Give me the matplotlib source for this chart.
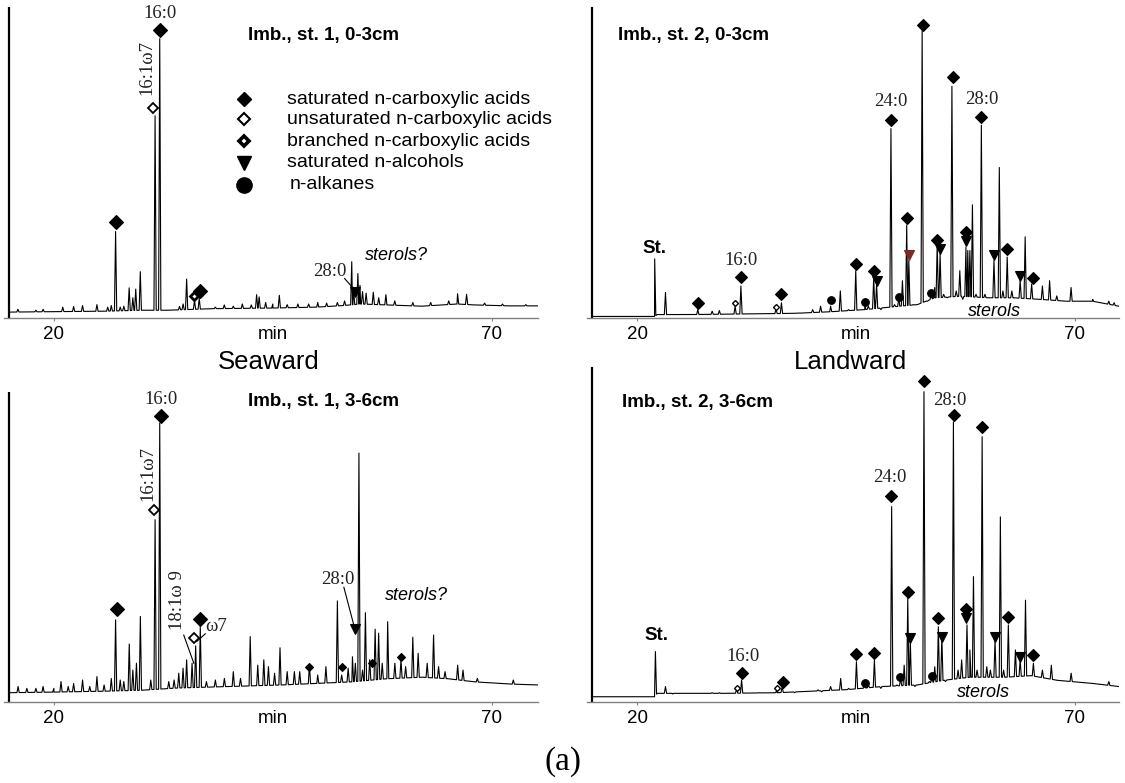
import numpy as np
import matplotlib
matplotlib.use("Agg")
import matplotlib.pyplot as plt

plt.rcParams['font.family'] = ['Liberation Sans', 'DejaVu Sans']

# ---------------- data (retention time in min, relative intensity) ----------------
# Seaward, station 1, 0-3 cm
tl_base = [(14.9, 1.9), (26.0, 2.2), (30.0, 2.5), (33.0, 2.5), (38.0, 3.0), (45.0, 3.2),
           (50.0, 3.5), (53.0, 4.0), (55.0, 4.5), (58.0, 4.2), (62.0, 3.8), (66.0, 4.5),
           (68.0, 4.2), (72.0, 3.9), (75.2, 3.9)]
tl_peaks = [(15.88, 2.8), (17.93, 2.5), (18.76, 2.8), (21.0, 3.5), (22.24, 3.7), (23.26, 4.0),
            (24.9, 4.3), (26.13, 3.5), (26.54, 4.0), (27.03, 27.8), (27.56, 3.5), (27.97, 3.8),
            (28.58, 9.7), (29.0, 6.5), (29.33, 9.3), (29.85, 14.9), (31.54, 65.0), (32.07, 89.8),
            (34.33, 3.7), (34.74, 4.5), (35.14, 12.5), (36.04, 5.7), (36.58, 6.3), (38.42, 3.5),
            (39.44, 4.2), (40.47, 3.8), (41.5, 4.5), (42.52, 4.2), (43.13, 7.5), (43.42, 6.8),
            (44.16, 5.0), (44.98, 4.5), (45.72, 7.3), (46.62, 4.3), (47.84, 4.5), (49.07, 4.5),
            (50.1, 5.0), (51.12, 4.8), (52.35, 5.0), (53.17, 5.5), (53.99, 18.1), (54.2, 9.5),
            (54.69, 14.3), (54.93, 10.5), (55.22, 8.5), (55.63, 8.0), (56.45, 8.3), (57.07, 6.5),
            (57.89, 7.5), (58.9, 5.5), (60.96, 5.0), (63.0, 5.0), (65.06, 5.5), (66.07, 7.8),
            (67.1, 7.6), (69.15, 4.8), (71.2, 4.5), (73.86, 4.3)]
tl_sat = [(27.03, 30.8), (32.07, 92.7), (36.66, 8.6)]
tl_unsat = [(31.33, 67.5)]
tl_branched = [(36.0, 7.0)]
tl_alcohol = [(54.4, 8.4)]

# Landward, station 2, 0-3 cm
tr_base = [(14.94, 0.5), (22.0, 0.5), (22.3, 1.1), (26.0, 1.1), (32.0, 1.3), (38.0, 1.5),
           (42.0, 2.0), (46.0, 2.7), (50.0, 3.8), (52.0, 4.3), (54.0, 6.5), (57.0, 7.0),
           (60.0, 6.5), (63.0, 6.5), (66.0, 6.0), (69.0, 5.4), (72.0, 5.4), (75.0, 3.8)]
tr_peaks = [(22.02, 19.0), (23.25, 8.2), (26.94, 2.7), (28.58, 2.2), (29.4, 2.4), (31.2, 3.8),
            (31.86, 10.3), (35.87, 3.0), (36.49, 4.9), (38.4, 1.6), (40.05, 2.7), (40.96, 3.8),
            (42.1, 3.8), (43.21, 8.7), (44.15, 2.7), (44.97, 15.2), (46.0, 4.3), (46.41, 3.8),
            (47.02, 13.0), (47.35, 10.9), (47.84, 2.7), (48.99, 60.9), (49.4, 4.3), (49.89, 6.5),
            (50.3, 12.0), (50.79, 29.9), (51.03, 18.5), (51.53, 4.3), (52.55, 92.4), (53.17, 5.4),
            (53.58, 7.6), (53.99, 9.8), (54.27, 23.9), (54.6, 20.7), (55.01, 7.6), (55.42, 6.5),
            (55.95, 74.5), (56.44, 8.7), (56.85, 15.2), (57.18, 6.0), (57.55, 22.8), (57.76, 21.7),
            (58.0, 21.7), (58.29, 36.4), (58.7, 7.6), (59.31, 62.0), (59.72, 7.6), (60.13, 6.5),
            (60.75, 18.5), (61.36, 48.4), (61.77, 8.7), (62.26, 19.6), (62.79, 8.7), (63.74, 12.0),
            (64.31, 26.1), (65.05, 10.9), (66.28, 10.3), (67.1, 12.0), (67.92, 7.1), (69.55, 9.8),
            (72.01, 6.0), (73.86, 5.4), (74.47, 4.9)]
tr_sat = [(26.94, 4.7), (31.86, 13.3), (36.49, 7.6), (44.97, 17.4), (47.02, 15.2), (48.99, 63.8),
          (50.79, 32.3), (52.63, 94.3), (54.19, 25.0), (56.04, 77.4), (57.55, 27.5), (59.31, 64.5),
          (62.26, 22.3), (65.17, 12.8)]
tr_unsat = [(31.2, 4.7), (35.87, 3.6)]
tr_alcohol = [(47.43, 12.0), (54.6, 22.3), (57.55, 24.7), (60.75, 20.1), (63.74, 13.6)]
tr_alcohol_red = [(51.03, 20.1)]
tr_alkane = [(42.1, 5.8), (46.0, 5.2), (49.89, 6.8), (53.58, 7.9)]

# Seaward, station 1, 3-6 cm
bl_base = [(14.9, 3.0), (20.0, 3.2), (26.0, 3.5), (30.0, 3.8), (34.0, 4.5), (40.0, 5.0),
           (46.0, 5.5), (50.0, 6.0), (54.0, 6.5), (58.0, 7.5), (62.0, 8.0), (65.0, 7.5),
           (68.0, 6.5), (72.0, 5.8), (75.2, 5.5)]
bl_peaks = [(15.9, 5.0), (16.9, 4.4), (17.93, 4.4), (18.75, 5.0), (19.98, 4.4), (20.8, 6.6),
            (21.62, 5.0), (22.24, 6.0), (23.26, 7.1), (24.08, 5.0), (24.9, 8.2), (25.72, 5.5),
            (26.54, 7.6), (27.03, 26.5), (27.56, 7.1), (27.97, 6.6), (28.59, 18.7), (29.0, 10.3),
            (29.41, 12.5), (29.86, 27.6), (31.05, 7.1), (31.54, 58.8), (32.07, 90.0), (33.1, 6.6),
            (33.71, 7.1), (34.24, 9.3), (34.73, 10.9), (35.14, 13.6), (35.76, 12.5), (36.17, 18.1),
            (36.7, 24.3), (37.4, 6.6), (38.42, 7.1), (39.45, 7.6), (40.47, 9.8), (41.29, 7.6),
            (42.4, 21.1), (43.26, 11.9), (43.95, 13.6), (44.48, 11.4), (45.18, 9.3), (45.8, 17.5),
            (46.62, 9.8), (47.44, 9.8), (48.05, 9.8), (49.16, 11.9), (50.1, 8.7), (51.04, 11.4),
            (52.35, 32.6), (52.84, 8.7), (53.58, 10.9), (54.07, 14.6), (54.4, 12.5), (54.81, 80.3),
            (55.22, 10.3), (55.55, 28.8), (56.04, 13.6), (56.66, 23.5), (57.06, 22.2), (57.47, 12.5),
            (58.09, 25.9), (58.91, 12.5), (59.61, 13.6), (60.14, 11.4), (60.96, 20.9), (61.57, 15.7),
            (62.6, 12.5), (63.33, 21.6), (63.9, 11.4), (64.64, 9.8), (66.08, 11.9), (66.69, 10.3),
            (68.33, 7.6), (72.43, 7.1)]
bl_sat = [(27.15, 30.0), (32.19, 92.1), (36.66, 26.8)]
bl_sat_small = [(49.16, 11.2), (52.84, 11.2), (56.25, 12.7), (59.61, 14.4)]
bl_unsat = [(31.45, 61.8), (35.96, 20.8)]
bl_alcohol = [(54.4, 23.5)]

# Landward, station 2, 3-6 cm
br_base = [(14.94, 1.7), (22.0, 1.7), (22.3, 2.8), (24.0, 2.8), (30.0, 2.8), (36.0, 3.0),
           (40.0, 3.5), (44.0, 4.0), (48.0, 5.0), (52.0, 5.5), (55.0, 7.0), (58.0, 8.0),
           (62.0, 8.0), (65.0, 8.5), (68.0, 7.0), (72.0, 6.0), (75.0, 5.0)]
br_peaks = [(22.1, 16.3), (23.25, 5.0), (24.07, 2.6), (26.94, 2.8), (28.58, 3.0), (29.4, 3.0),
            (31.37, 4.1), (31.94, 7.1), (33.91, 3.0), (35.96, 3.9), (36.57, 5.0), (38.0, 3.0),
            (40.67, 3.9), (41.08, 3.3), (42.1, 5.0), (43.25, 7.6), (44.15, 4.4), (45.05, 13.0),
            (45.99, 5.5), (46.41, 5.5), (47.1, 13.6), (47.84, 4.4), (49.07, 63.1), (49.68, 5.5),
            (50.09, 7.6), (50.5, 11.9), (50.91, 33.5), (51.2, 20.0), (51.73, 5.0), (52.76, 100.2),
            (53.37, 6.6), (53.66, 8.2), (53.99, 11.4), (54.4, 24.3), (54.8, 21.1), (55.22, 6.6),
            (56.12, 90.5), (56.65, 10.3), (57.06, 13.6), (57.67, 24.9), (58.0, 16.8), (58.41, 40.5),
            (58.82, 10.3), (59.4, 85.7), (59.93, 11.4), (60.34, 10.3), (60.87, 20.0), (61.48, 59.8),
            (61.85, 10.3), (62.39, 24.9), (63.2, 16.8), (63.74, 13.6), (64.35, 32.9), (65.25, 12.5),
            (66.28, 10.3), (67.3, 11.9), (69.56, 9.3), (73.86, 6.6)]
br_sat = [(31.94, 9.5), (36.65, 6.6), (45.05, 15.5), (47.02, 15.7), (48.99, 66.5), (50.91, 35.6),
          (52.76, 103.7), (54.31, 27.0), (56.2, 92.7), (57.55, 29.9), (59.4, 88.9), (62.39, 27.6),
          (65.25, 15.2)]
br_unsat = [(31.37, 4.4), (35.96, 4.4)]
br_alcohol = [(51.2, 20.6), (54.8, 21.1), (57.55, 27.0), (60.87, 21.1), (63.74, 14.6)]
br_alkane = [(45.99, 6.0), (49.97, 8.2), (53.66, 8.4)]

tick_vals = [20, 70]
tick_labels = ['20', '70']
legend_labels = ['saturated n-carboxylic acids', 'unsaturated n-carboxylic acids',
                 'branched n-carboxylic acids', 'saturated n-alcohols', 'n-alkanes']

# ---------------- figure ----------------
W, H = 1125, 783
fig = plt.figure(figsize=(W / 100, H / 100), dpi=100)
SERIF = ['Liberation Serif', 'DejaVu Serif']
LAB = '#222222'


def t_of_px(x, x20):
    return 20 + (x - x20) / 8.76


def add_panel(x0, x1, ytop, ybot, x20, ymax):
    ax = fig.add_axes([x0 / W, 1 - ybot / H, (x1 - x0) / W, (ybot - ytop) / H])
    ax.set_xlim(t_of_px(x0, x20), t_of_px(x1, x20))
    ax.set_ylim(0, ymax)
    for s in ['top', 'right', 'left']:
        ax.spines[s].set_visible(False)
    ax.spines['bottom'].set_color('#808080')
    ax.spines['bottom'].set_linewidth(1.0)
    ax.set_yticks([])
    ax.set_xticks(tick_vals)
    ax.set_xticklabels(tick_labels)
    ax.set_xticks([45], minor=True)
    ax.set_xticklabels(['min'], minor=True)
    ax.tick_params(axis='x', which='major', direction='out', length=2.5, width=0.8,
                   color='#808080', pad=3.5, labelsize=13.5)
    ax.tick_params(axis='x', which='minor', length=0, pad=6.0, labelsize=13.5)
    ax.plot([14.9, 14.9], [0, ymax], color='k', lw=1.6, clip_on=False, solid_capstyle='butt')
    ax.patch.set_visible(False)
    return ax


def draw_trace(ax, base, peaks, w=0.13):
    bt, bh = map(np.asarray, zip(*base))
    pt, ph = map(np.asarray, zip(*peaks))
    lx, rx = pt - w, pt + w
    xs = np.concatenate([bt, lx, pt, rx])
    ys = np.concatenate([bh, np.interp(lx, bt, bh), ph, np.interp(rx, bt, bh)])
    o = np.argsort(xs, kind='stable')
    ax.plot(xs[o], ys[o], color='k', lw=0.8, zorder=3)


def mk(ax, pts, marker, ms, mfc='k', mec='k', mew=0.8):
    if pts:
        t, h = zip(*pts)
        ax.plot(t, h, ls='none', marker=marker, ms=ms, mfc=mfc, mec=mec, mew=mew,
                clip_on=False, zorder=5)


# ---- top left ----
ax = add_panel(4, 538, 7, 318, 54, 100)
draw_trace(ax, tl_base, tl_peaks)
mk(ax, tl_sat, 'D', 7.0)
mk(ax, tl_unsat, 'D', 5.5, mfc='white', mew=1.3)
mk(ax, tl_branched, 'D', 4.0, mfc='white', mew=2.0)
mk(ax, tl_alcohol, 'v', 7.0)
ax.text(32.07, 97.8, '16:0', family=SERIF, fontsize=13.5, color=LAB, ha='center', va='center')
ax.text(30.6, 80.6, '16:1ω7', family=SERIF, fontsize=13.5, color=LAB, ha='center', va='center', rotation=90)
ax.text(51.53, 14.9, '28:0', family=SERIF, fontsize=13.5, color=LAB, ha='center', va='center')
ax.plot([53.17, 54.4], [12.7, 8.8], color='k', lw=0.8)
ax.text(59.06, 20.0, 'sterols?', fontsize=13, style='italic', ha='center', va='center')
ax.text(42.1, 90.8, 'Imb., st. 1, 0-3cm', fontsize=13.5, fontweight='bold', ha='left', va='center')
leg_y = [70.4, 63.9, 56.9, 49.9, 42.9]
ax.plot([41.7], [leg_y[0]], 'D', ms=7.2, color='k')
ax.plot([41.7], [leg_y[1]], 'D', ms=6.5, mfc='white', mec='k', mew=1.5)
ax.plot([41.7], [leg_y[2]], 'D', ms=5.5, mfc='white', mec='k', mew=2.6)
ax.plot([41.7], [leg_y[3]], 'v', ms=10, color='k')
ax.plot([41.7], [leg_y[4]], 'o', ms=11, color='k')
for i, lab in enumerate(legend_labels):
    ax.text(46.62 if i < 4 else 46.94, leg_y[i], lab, fontsize=14, ha='left', va='center')

# ---- top right ----
ax = add_panel(587, 1119, 7, 318, 637, 100)
draw_trace(ax, tr_base, tr_peaks)
mk(ax, tr_sat, 'D', 6.2)
mk(ax, tr_unsat, 'D', 3.0, mfc='white', mew=1.0)
mk(ax, tr_alcohol, 'v', 7.5)
mk(ax, tr_alcohol_red, 'v', 7.5, mfc='#7a2a2a', mec='#7a2a2a')
mk(ax, tr_alkane, 'o', 5.5)
ax.text(17.85, 90.8, 'Imb., st. 2, 0-3cm', fontsize=13.5, fontweight='bold', ha='left', va='center')
ax.text(22.0, 22.3, 'St.', fontsize=13.5, fontweight='bold', ha='center', va='center')
ax.text(31.86, 18.5, '16:0', family=SERIF, fontsize=13.5, color=LAB, ha='center', va='center')
ax.text(48.99, 69.6, '24:0', family=SERIF, fontsize=13.5, color=LAB, ha='center', va='center')
ax.text(59.31, 70.1, '28:0', family=SERIF, fontsize=13.5, color=LAB, ha='center', va='center')
ax.text(60.83, 2.2, 'sterols', fontsize=13, style='italic', ha='center', va='center')

# ---- bottom left ----
ax = add_panel(4, 538, 392, 702, 54, 100)
draw_trace(ax, bl_base, bl_peaks)
mk(ax, bl_sat, 'D', 7.0)
mk(ax, bl_sat_small, 'D', 3.6)
mk(ax, bl_unsat, 'D', 5.5, mfc='white', mew=1.3)
mk(ax, bl_alcohol, 'v', 7.5)
ax.text(32.27, 97.5, '16:0', family=SERIF, fontsize=13.5, color=LAB, ha='center', va='center')
ax.text(30.72, 73.8, '16:1ω7', family=SERIF, fontsize=13.5, color=LAB, ha='center', va='center', rotation=90)
ax.text(34.12, 32.9, '18:1ω 9', family=SERIF, fontsize=13.5, color=LAB, ha='center', va='center', rotation=90)
ax.plot([34.81, 35.96], [21.6, 12.5], color='k', lw=0.8)
ax.text(37.27, 24.5, 'ω7', family=SERIF, fontsize=13.5, color=LAB, ha='left', va='center')
ax.plot([37.27, 36.29], [22.0, 19.5], color='k', lw=0.8)
ax.text(52.35, 39.6, '28:0', family=SERIF, fontsize=13.5, color=LAB, ha='center', va='center')
ax.plot([53.09, 54.32], [37.0, 23.8], color='k', lw=0.8)
ax.text(61.37, 34.2, 'sterols?', fontsize=13, style='italic', ha='center', va='center')
ax.text(42.1, 97.0, 'Imb., st. 1, 3-6cm', fontsize=13.5, fontweight='bold', ha='left', va='center')

# ---- bottom right ----
ax = add_panel(587, 1119, 367, 702, 637, 108.2)
draw_trace(ax, br_base, br_peaks)
mk(ax, br_sat, 'D', 6.2)
mk(ax, br_unsat, 'D', 3.0, mfc='white', mew=1.0)
mk(ax, br_alcohol, 'v', 7.5)
mk(ax, br_alkane, 'o', 5.5)
ax.text(18.25, 96.8, 'Imb., st. 2, 3-6cm', fontsize=13.5, fontweight='bold', ha='left', va='center')
ax.text(22.23, 21.6, 'St.', fontsize=13.5, fontweight='bold', ha='center', va='center')
ax.text(32.06, 14.6, '16:0', family=SERIF, fontsize=13.5, color=LAB, ha='center', va='center')
ax.text(48.86, 72.6, '24:0', family=SERIF, fontsize=13.5, color=LAB, ha='center', va='center')
ax.text(55.71, 97.3, '28:0', family=SERIF, fontsize=13.5, color=LAB, ha='center', va='center')
ax.text(59.52, 3.0, 'sterols', fontsize=13, style='italic', ha='center', va='center')

# ---- figure labels ----
fig.text(269 / W, 1 - 362 / H, 'Seaward', fontsize=18.5, ha='center', va='center')
fig.text(850 / W, 1 - 362 / H, 'Landward', fontsize=18.5, ha='center', va='center')
fig.text(563 / W, 1 - 762 / H, '(a)', family=SERIF, fontsize=24, ha='center', va='center')

fig.savefig('out.png', dpi=100)
